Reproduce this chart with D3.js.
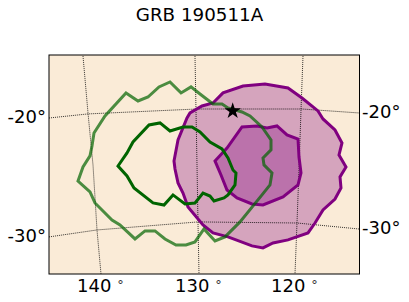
<!DOCTYPE html>
<html><head><meta charset="utf-8">
<style>html,body{margin:0;padding:0;background:#fff}svg{display:block}text{font-family:"DejaVu Sans";fill:#000}</style>
<script src="https://cdn.jsdelivr.net/npm/d3@7"></script></head><body><div id="c"></div>
<script>
const titleText = "GRB 190511A";
const outerGreen = [[141.5,-25.67],[141.0,-24.5],[140.3,-23.58],[140.1,-22.75],[139.9,-21.67],[138.8,-20.25],[136.7,-18.33],[135.5,-19.0],[134.5,-18.67],[133.4,-17.83],[132.3,-17.42],[131.2,-18.33],[130.2,-17.83],[129.3,-18.42],[128.0,-19.25],[127.1,-19.25],[126.5,-19.58],[125.1,-19.92],[124.3,-20.25],[123.1,-21.17],[122.2,-22.25],[122.2,-23.08],[123.0,-23.75],[122.9,-24.33],[122.1,-25.0],[122.3,-26.0],[123.1,-26.83],[125.3,-29.08],[126.8,-30.33],[127.8,-30.67],[128.9,-29.67],[129.8,-30.75],[130.7,-31.0],[131.7,-31.0],[132.8,-30.5],[133.8,-29.83],[134.8,-29.83],[135.8,-30.5],[137.3,-29.33],[138.1,-28.92],[139.8,-27.5],[140.3,-26.58]];
const innerGreen = [[137.5,-24.42],[136.6,-23.33],[136.0,-22.42],[134.4,-21.0],[133.3,-20.83],[132.3,-21.5],[131.0,-21.17],[130.1,-21.17],[129.3,-21.58],[128.3,-22.42],[127.1,-23.0],[126.5,-23.75],[126.0,-24.75],[125.7,-25.0],[125.8,-26.0],[126.5,-26.83],[126.9,-27.08],[127.9,-27.33],[128.3,-26.92],[129.0,-26.67],[129.8,-27.5],[130.8,-27.58],[132.0,-26.83],[132.9,-27.67],[134.0,-27.5],[135.9,-26.25],[136.6,-25.25]];
const outerPurple = [[131.9,-24.0],[131.5,-22.25],[130.6,-20.42],[130.3,-20.0],[129.1,-19.42],[128.0,-19.17],[127.0,-18.33],[125.0,-17.75],[122.8,-17.58],[120.5,-17.92],[119.1,-18.75],[117.5,-19.83],[117.0,-20.5],[115.8,-21.42],[115.1,-22.5],[115.4,-23.5],[114.7,-24.5],[115.3,-25.33],[115.2,-26.25],[115.8,-27.17],[117.0,-28.08],[117.8,-29.17],[118.5,-30.0],[120.5,-30.58],[122.0,-30.83],[123.0,-31.25],[124.1,-31.08],[126.5,-30.33],[128.0,-30.0],[129.0,-29.33],[130.5,-27.83],[131.0,-26.67],[131.5,-25.83],[131.8,-24.67]];
const innerPurple = [[127.8,-24.0],[126.6,-22.92],[125.1,-21.17],[123.6,-21.08],[122.6,-21.25],[121.6,-21.08],[120.6,-21.83],[119.5,-22.17],[119.4,-23.67],[119.2,-25.0],[119.5,-26.0],[121.0,-27.0],[123.0,-27.67],[124.1,-27.58],[125.6,-27.08],[126.6,-26.42],[127.2,-25.17]];
const gridLon140 = [[141.0,-15.25],[140.5,-20],[140.0,-24.33],[139.6,-29.75],[139.2,-33.42]];
const gridLon130 = [[129.8,-15.25],[129.6,-24.33],[129.5,-29.17],[129.4,-33.42]];
const gridLon120 = [[119.0,-15.25],[119.2,-19.75],[119.4,-24.75],[119.6,-29.17],[119.8,-33.42]];
const gridDec20 = [[144.4,-20.42],[140.5,-20.08],[129.6,-19.67],[119.1,-19.67],[113.4,-20.0]];
const gridDec30 = [[144.4,-30.33],[139.6,-29.75],[129.5,-29.08],[119.6,-29.17],[113.4,-29.67]];
const burst = [126.03,-19.83];
const bottomLabels = [{lon:139.2,t:"140"},{lon:129.4,t:"130"},{lon:119.8,t:"120"}];
const leftLabels = [{dec:-20.335,t:"-20°"},{dec:-30.25,t:"-30°"}];
const rightLabels = [{dec:-19.96,t:"-20°"},{dec:-29.585,t:"-30°"}];

const W=409,H=302,L=49,R=359.5,T=55,B=274;
const x=d3.scaleLinear().domain([144.4,113.35]).range([L,R]);
const y=d3.scaleLinear().domain([-15.17,-33.42]).range([T,B]);
const svg=d3.select("#c").append("svg").attr("width",W).attr("height",H);
svg.append("defs").append("clipPath").attr("id","clip").append("rect").attr("x",L).attr("y",T).attr("width",R-L).attr("height",B-T);
svg.append("rect").attr("x",L).attr("y",T).attr("width",R-L).attr("height",B-T).attr("fill","#faebd7");
const g=svg.append("g").attr("clip-path","url(#clip)");
const line=d3.line().x(d=>x(d[0])).y(d=>y(d[1]));
const closed=d3.line().x(d=>x(d[0])).y(d=>y(d[1])).curve(d3.curveLinearClosed);
[outerPurple,innerPurple].forEach(a=>{
  g.append("path").attr("d",closed(a)).attr("fill","purple").attr("fill-opacity",0.3).attr("stroke","none");
});
[gridLon140,gridLon130,gridLon120,gridDec20,gridDec30].forEach(a=>{
  g.append("path").attr("d",line(a)).attr("fill","none").attr("stroke","#000").attr("stroke-width",0.8).attr("stroke-dasharray","1 1");
});
[outerPurple,innerPurple].forEach(a=>{
  g.append("path").attr("d",closed(a)).attr("fill","none").attr("stroke","purple").attr("stroke-width",3);
});
g.append("path").attr("d",closed(outerGreen)).attr("fill","none").attr("stroke","darkgreen").attr("stroke-opacity",0.7).attr("stroke-width",3);
g.append("path").attr("d",closed(innerGreen)).attr("fill","none").attr("stroke","darkgreen").attr("stroke-width",3);
g.append("path").attr("d",d3.symbol(d3.symbolStar,85)()).attr("transform",`translate(${x(burst[0])},${y(burst[1])})`).attr("fill","#000");
svg.append("rect").attr("x",L).attr("y",T).attr("width",R-L).attr("height",B-T).attr("fill","none").attr("stroke","#000").attr("stroke-width",1);
svg.append("text").attr("x",199.5).attr("y",21).attr("text-anchor","middle").attr("font-size",18.3).text(titleText);
const bt=svg.selectAll(".b").data(bottomLabels).enter().append("text").attr("x",d=>x(d.lon)-24).attr("y",292).attr("font-size",18).text(d=>d.t);
bt.append("tspan").attr("dx",6).attr("dy",-3).attr("font-size",13).attr("fill","#333").text("°");
svg.selectAll(".l").data(leftLabels).enter().append("text").attr("x",46).attr("y",d=>y(d.dec)+6).attr("text-anchor","end").attr("font-size",18).text(d=>d.t);
svg.selectAll(".r").data(rightLabels).enter().append("text").attr("x",362).attr("y",d=>y(d.dec)+6).attr("text-anchor","start").attr("font-size",18).text(d=>d.t);
</script></body></html>
